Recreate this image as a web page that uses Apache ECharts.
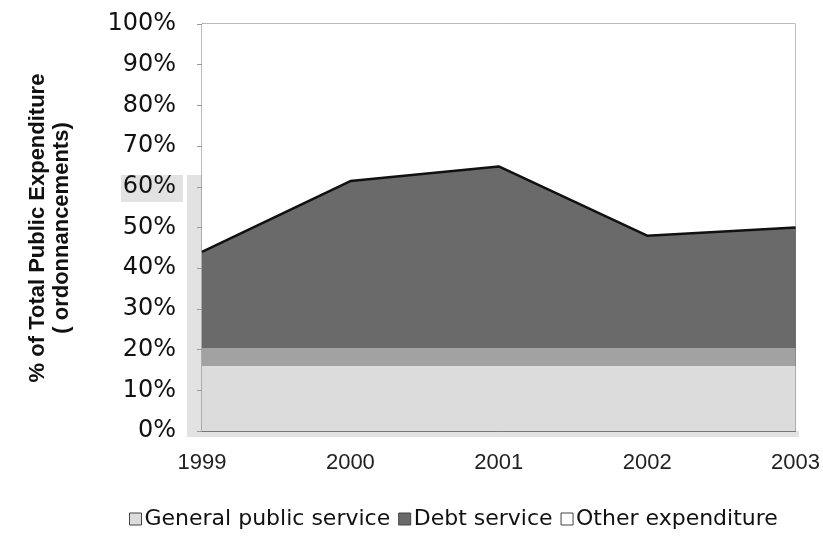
<!DOCTYPE html>
<html><head><meta charset="utf-8">
<script src="https://cdn.jsdelivr.net/npm/echarts@6/dist/echarts.min.js"></script>
<style>html,body{margin:0;padding:0;background:#fff}#c{width:823px;height:541px}</style>
</head><body><div id="c"></div>
<script>
var years = ['1999','2000','2001','2002','2003'];
var generalPublic = [16, 16, 16, 16, 16];
var debtService = [28, 45.4, 49, 32, 34];
var otherExpenditure = [56, 38.6, 35, 52, 50];
var yTicks = [0,10,20,30,40,50,60,70,80,90,100];
var debtLowerBand = [16, 20.4];

var chart = echarts.init(document.getElementById('c'));
chart.setOption({
  backgroundColor: '#fff',
  animation: false,
  textStyle: { fontFamily: 'Liberation Sans, Arial, sans-serif' },
  grid: { left: 202, right: 26, top: 24, bottom: 110, show: true, borderColor: '#777', borderWidth: 1 },
  graphic: [
    { type: 'rect', z: -1, shape: { x: 187, y: 175, width: 15, height: 262 }, style: { fill: '#e2e2e2' } },
    { type: 'rect', z: -1, shape: { x: 187, y: 431, width: 612, height: 6 }, style: { fill: '#e2e2e2' } },
    { type: 'rect', z: -1, shape: { x: 121, y: 175, width: 62, height: 27 }, style: { fill: '#e2e2e2' } },
    { type: 'text', x: 50, y: 228, rotation: Math.PI / 2, style: {
        text: '% of Total Public Expenditure\n( ordonnancements)', fill: '#111',
        font: 'bold 22px Liberation Sans, Arial, sans-serif', align: 'center', verticalAlign: 'middle', lineHeight: 24 } }
  ],
  legend: {
    bottom: 6, left: 124, itemGap: 8, itemWidth: 12, itemHeight: 12, icon: 'rect',
    textStyle: { fontSize: 22, fontFamily: 'DejaVu Sans', color: '#111', padding: [0,0,0,-2] },
    data: [
      { name: 'General public service', itemStyle: { color: '#dcdcdc', borderColor: '#444', borderWidth: 1 } },
      { name: 'Debt service', itemStyle: { color: '#6a6a6a', borderColor: '#444', borderWidth: 1 } },
      { name: 'Other expenditure', itemStyle: { color: '#ffffff', borderColor: '#444', borderWidth: 1 } }
    ]
  },
  xAxis: {
    type: 'category', data: years, boundaryGap: false,
    axisLine: { show: true, lineStyle: { color: '#777' } },
    axisTick: { show: false },
    axisLabel: { fontSize: 22, color: '#222', margin: 21 }
  },
  yAxis: {
    type: 'value', min: 0, max: 100, interval: 10,
    axisLine: { show: true, lineStyle: { color: '#666', type: 'dotted' } },
    axisTick: { show: true, length: 5, lineStyle: { color: '#999' } },
    splitLine: { show: false },
    axisLabel: { fontSize: 24, fontFamily: 'DejaVu Sans', color: '#111', margin: 26, formatter: function (v) { return yTicks.indexOf(v) >= 0 ? v + '%' : ''; } }
  },
  series: [
    { name: 'General public service', type: 'line', stack: 's', data: generalPublic, symbol: 'none',
      lineStyle: { width: 0 }, areaStyle: { color: '#dcdcdc', opacity: 1 }, itemStyle: { color: '#dcdcdc' } },
    { name: 'Debt service', type: 'line', stack: 's', data: debtService, symbol: 'none',
      lineStyle: { width: 2.5, color: '#111' }, areaStyle: { color: '#6a6a6a', opacity: 1 }, itemStyle: { color: '#6a6a6a' } },
    { name: 'Other expenditure', type: 'line', stack: 's', data: otherExpenditure, symbol: 'none', z: 3,
      lineStyle: { width: 0 }, areaStyle: { color: '#ffffff', opacity: 1 }, itemStyle: { color: '#ffffff' },
      markArea: { silent: true, z: 5, itemStyle: { color: '#a2a2a2', opacity: 1 },
        data: [[{ xAxis: years[0], yAxis: debtLowerBand[0] }, { xAxis: years[years.length - 1], yAxis: debtLowerBand[1] }]] } }
  ]
});
</script>
</body></html>
